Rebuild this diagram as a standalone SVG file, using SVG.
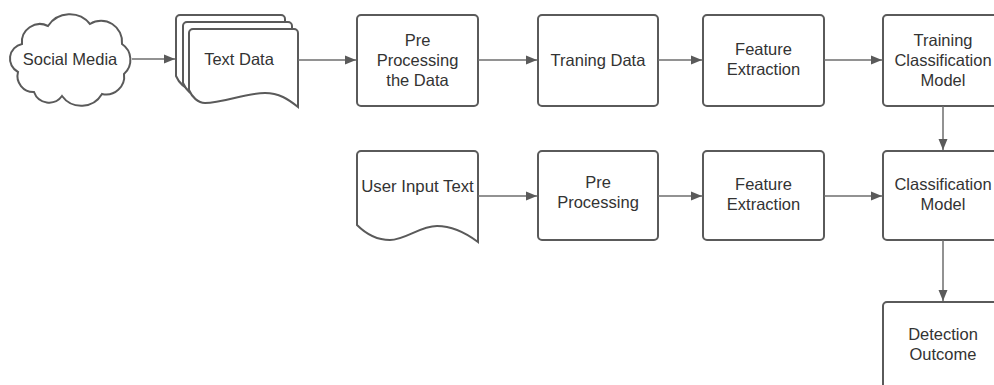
<svg xmlns="http://www.w3.org/2000/svg" width="994" height="385" viewBox="0 0 994 385">
<style>
.s{fill:#fff;stroke:#5a5a5a;stroke-width:2}
.t{font-family:"Liberation Sans",Arial,sans-serif;font-size:16.5px;fill:#333;text-anchor:middle}
.c{fill:none;stroke:#6e6e6e;stroke-width:1.5}
</style>
<defs>
<marker id="ah" markerWidth="12" markerHeight="10" refX="11" refY="5" orient="auto" markerUnits="userSpaceOnUse">
<path d="M0,0.5 L11,5 L0,9.5 Z" fill="#5a5a5a"/>
</marker>
<path id="doc" d="M4,0 H105 A4,4 0 0 1 109,4 V78 C99,70 90,64 76,64 C56,64 34,74 16,74 C9,74 3,68 0,61 V4 A4,4 0 0 1 4,0 Z"/>
</defs>
<g id="social-media">
<path class="s" d="M18,72 A15,15 0 0 1 22,44 A18,18 0 0 1 48,26 A26,26 0 0 1 90,24 A21,21 0 0 1 122,44 A19,19 0 0 1 124,74 A18,18 0 0 1 102,94 A24,24 0 0 1 62,96 A16,16 0 0 1 34,92 A16,16 0 0 1 18,72 Z"/>
<text class="t" x="70" y="65">Social Media</text>
</g>
<g id="text-data">
<use href="#doc" class="s" x="176" y="15"/>
<use href="#doc" class="s" x="183" y="22"/>
<use href="#doc" class="s" x="189" y="29"/>
<text class="t" x="239" y="65">Text Data</text>
</g>
<g id="pre-processing-data">
<rect class="s" x="357" y="15" width="121" height="91" rx="4"/>
<text class="t" x="417.5" y="45.5">Pre</text>
<text class="t" x="417.5" y="65.5">Processing</text>
<text class="t" x="417.5" y="85.5">the Data</text>
</g>
<g id="traning-data">
<rect class="s" x="538" y="15" width="120" height="91" rx="4"/>
<text class="t" x="598" y="66">Traning Data</text>
</g>
<g id="feature-extraction-1">
<rect class="s" x="703" y="15" width="121" height="91" rx="4"/>
<text class="t" x="763.5" y="55">Feature</text>
<text class="t" x="763.5" y="75">Extraction</text>
</g>
<g id="training-classification-model">
<rect class="s" x="883" y="15" width="121" height="91" rx="4"/>
<text class="t" x="943" y="45.5">Training</text>
<text class="t" x="943" y="65.5">Classification</text>
<text class="t" x="943" y="85.5">Model</text>
</g>
<g id="user-input-text">
<path class="s" d="M361,151 H474 A4,4 0 0 1 478,155 V242 C466,233 452,226 437,226 C420,226 405,240 390,240 C375,240 365,233 357,225 V155 A4,4 0 0 1 361,151 Z"/>
<text class="t" x="417.5" y="192" style="font-size:16.8px">User Input Text</text>
</g>
<g id="pre-processing">
<rect class="s" x="538" y="151" width="120" height="89" rx="4"/>
<text class="t" x="598" y="188">Pre</text>
<text class="t" x="598" y="208">Processing</text>
</g>
<g id="feature-extraction-2">
<rect class="s" x="703" y="151" width="121" height="89" rx="4"/>
<text class="t" x="763.5" y="190">Feature</text>
<text class="t" x="763.5" y="210">Extraction</text>
</g>
<g id="classification-model">
<rect class="s" x="883" y="151" width="121" height="89" rx="4"/>
<text class="t" x="943" y="190">Classification</text>
<text class="t" x="943" y="210">Model</text>
</g>
<g id="detection-outcome">
<rect class="s" x="883" y="302" width="121" height="100" rx="4"/>
<text class="t" x="943" y="340">Detection</text>
<text class="t" x="943" y="360">Outcome</text>
</g>
<g id="connectors">
<path class="c" d="M132,59 H175" marker-end="url(#ah)"/>
<path class="c" d="M298,60 H356" marker-end="url(#ah)"/>
<path class="c" d="M478,60 H537" marker-end="url(#ah)"/>
<path class="c" d="M658,60 H702" marker-end="url(#ah)"/>
<path class="c" d="M824,60 H882" marker-end="url(#ah)"/>
<path class="c" d="M943,106 V150" marker-end="url(#ah)"/>
<path class="c" d="M478,196 H537" marker-end="url(#ah)"/>
<path class="c" d="M658,196 H702" marker-end="url(#ah)"/>
<path class="c" d="M824,196 H882" marker-end="url(#ah)"/>
<path class="c" d="M943,240 V301" marker-end="url(#ah)"/>
</g>
</svg>
